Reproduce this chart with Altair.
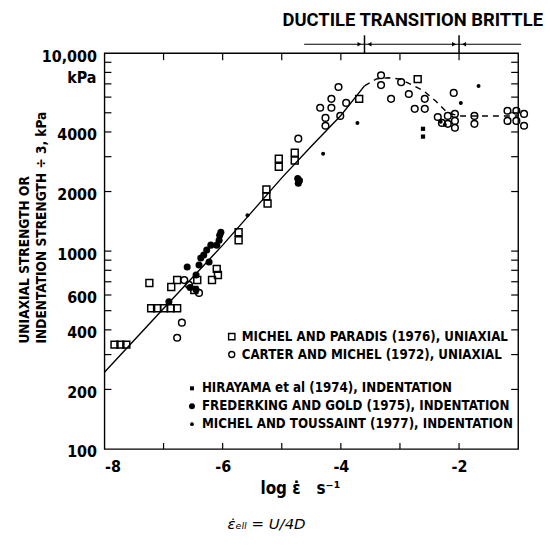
import altair as alt
import pandas as pd

# ---------------- data ----------------
# Michel and Paradis (1976), uniaxial  -> open squares
mp_x = [-7.83, -7.73, -7.63, -7.21, -7.11, -6.99, -6.88, -6.77, -7.24, -6.87, -6.77,
        -6.48, -6.43, -6.18, -6.10, -6.08, -5.73, -5.73, -5.26, -5.26, -5.24,
        -5.05, -5.05, -4.78, -4.78, -3.69, -2.70]
mp_y = [337, 337, 337, 514, 514, 514, 514, 514, 690, 659, 714,
        636, 714, 714, 813, 757, 1245, 1135, 2050, 1890, 1740,
        2930, 2670, 3140, 2870, 5880, 7400]

# Carter and Michel (1972), uniaxial -> open circles
cm_x = [-6.69, -6.77, -6.65, -6.57, -6.40, -4.72, -4.26, -4.26, -4.35, -4.16, -4.16,
        -4.04, -4.01, -3.91, -3.32, -3.32, -3.15, -2.98, -2.85, -2.75, -2.58, -2.58,
        -2.09, -2.36, -2.29, -2.19, -2.19, -2.07, -2.07, -2.07, -1.74, -1.74,
        -1.18, -1.18, -1.03, -1.03, -0.90, -0.90]
cm_y = [435, 365, 714, 675, 615, 3700, 4710, 4300, 5300, 5880, 5300,
        6750, 4820, 5610, 7740, 6900, 5880, 7140, 6220, 5235, 5880, 5235,
        6300, 4760, 4445, 4820, 4395, 4935, 4550, 4200, 4820, 4395,
        5120, 4550, 5120, 4550, 4935, 4300]

# Hirayama et al (1974), indentation -> small filled squares
hi_x = [-2.61, -2.61]
hi_y = [4150, 3790]

# Frederking and Gold (1975), indentation -> filled circles
fg_x = [-6.91, -6.60, -6.55, -6.45, -6.45, -6.40, -6.37, -6.32, -6.27, -6.23, -6.20,
        -6.10, -6.06, -6.05, -6.03, -4.72, -4.73, -4.70]
fg_y = [555, 832, 655, 637, 757, 851, 923, 956, 1012, 881, 1072,
        1072, 1135, 1203, 1245, 2200, 2330, 2275]

# Michel and Toussaint (1977), indentation -> small dots
mt_x = [-5.58, -4.30, -3.72, -1.97, -1.67, -2.31, -2.24]
mt_y = [1517, 3106, 4445, 5610, 6820, 4500, 4345]

# fitted curve
fit_solid_x = [-8.0, -7.0, -6.0, -5.0, -4.5, -4.0, -3.6]
fit_solid_y = [244, 513, 1072, 2344, 3388, 4842, 6840]
fit_dash_x = [-3.6, -3.4, -3.2, -3.0, -2.8, -2.6, -2.4, -2.2, -2.0, -1.6, -1.0]
fit_dash_y = [6840, 7410, 7520, 7400, 6920, 6460, 5750, 5010, 4820, 4820, 4820]

# axes
x_tick_values = [-7, -6, -5, -4, -3, -2]
x_tick_labels = [-8, -6, -4, -2]
y_tick_values = [200, 300, 400, 500, 600, 700, 800, 900, 1000,
                 2000, 3000, 4000, 5000, 6000, 7000, 8000, 9000]
y_tick_labels = [100, 200, 400, 600, 1000, 2000, 4000, 10000]

# regimes: ductile | transition | brittle
regime_header = "DUCTILE TRANSITION BRITTLE"
regime_bounds = [-3.6, -2.0]
regime_span = [-4.62, -0.95]

legend_labels = ["MICHEL AND PARADIS (1976), UNIAXIAL",
                 "CARTER AND MICHEL (1972), UNIAXIAL",
                 "HIRAYAMA et al (1974), INDENTATION",
                 "FREDERKING AND GOLD (1975), INDENTATION",
                 "MICHEL AND TOUSSAINT (1977), INDENTATION"]

x_title = "log ε̇\u00a0\u00a0\u00a0s⁻¹"
formula = "ε̇ₑₗₗ = U/4D"

# ---------------- layout ----------------
LEFT, TOP = 105, 52          # page position of the plot area
W, H = 416, 398
FONT = "DejaVu Sans Condensed, DejaVu Sans, sans-serif"


def px(page_x):
    return page_x - LEFT


def py(page_y):
    return page_y - TOP


xscale = alt.Scale(domain=[-8, -1], nice=False, zero=False)
yscale = alt.Scale(type="log", domain=[100, 10000], nice=False)
xaxis = alt.Axis(values=x_tick_labels, labelExpr="'' + datum.value", ticks=False,
                 domain=False, grid=False, labelFontSize=16, labelFont=FONT,
                 labelFontWeight="bold", labelPadding=10, labelColor="black", title=None)
yaxis = alt.Axis(values=y_tick_labels,
                 labelExpr="datum.value == 10000 ? '10,000' : '' + datum.value",
                 ticks=False, domain=False, grid=False, labelFontSize=16, labelFont=FONT,
                 labelFontWeight="bold", labelPadding=8, labelOffset=3,
                 labelColor="black", title=None)


def X(f="x"):
    return alt.X(f"{f}:Q", scale=xscale, axis=xaxis)


def Y(f="y"):
    return alt.Y(f"{f}:Q", scale=yscale, axis=yaxis)


layers = []

# fitted curve
layers.append(alt.Chart(pd.DataFrame({"x": fit_solid_x, "y": fit_solid_y}))
              .mark_line(color="black", strokeWidth=1.4).encode(x=X(), y=Y()))
layers.append(alt.Chart(pd.DataFrame({"x": fit_dash_x, "y": fit_dash_y}))
              .mark_line(color="black", strokeWidth=1.4, strokeDash=[6, 5]).encode(x=X(), y=Y()))

# data points
layers.append(alt.Chart(pd.DataFrame({"x": mp_x, "y": mp_y}))
              .mark_point(shape="square", filled=False, size=48, strokeWidth=1.5,
                          color="black", opacity=1).encode(x=X(), y=Y()))
layers.append(alt.Chart(pd.DataFrame({"x": cm_x, "y": cm_y}))
              .mark_point(shape="circle", filled=False, size=45, strokeWidth=1.5,
                          color="black", opacity=1).encode(x=X(), y=Y()))
layers.append(alt.Chart(pd.DataFrame({"x": hi_x, "y": hi_y}))
              .mark_square(size=18, color="black", opacity=1).encode(x=X(), y=Y()))
layers.append(alt.Chart(pd.DataFrame({"x": fg_x, "y": fg_y}))
              .mark_circle(size=50, color="black", opacity=1).encode(x=X(), y=Y()))
layers.append(alt.Chart(pd.DataFrame({"x": mt_x, "y": mt_y}))
              .mark_circle(size=16, color="black", opacity=1).encode(x=X(), y=Y()))

# inward ticks on all four sides
ytd = pd.DataFrame({"y": y_tick_values})
layers.append(alt.Chart(ytd).mark_rule(color="black", strokeWidth=1.2)
              .encode(y=Y(), x=alt.value(0), x2=alt.value(7)))
layers.append(alt.Chart(ytd).mark_rule(color="black", strokeWidth=1.2)
              .encode(y=Y(), x=alt.value(W), x2=alt.value(W - 7)))
xtd = pd.DataFrame({"x": x_tick_values})
layers.append(alt.Chart(xtd).mark_rule(color="black", strokeWidth=1.2)
              .encode(x=X(), y=alt.value(H), y2=alt.value(H - 6)))
layers.append(alt.Chart(xtd).mark_rule(color="black", strokeWidth=1.2)
              .encode(x=X(), y=alt.value(0), y2=alt.value(7)))

# "kPa" under 10,000
layers.append(alt.Chart(pd.DataFrame({"t": ["kPa"]}))
              .mark_text(text="kPa", align="right", baseline="middle", font=FONT,
                         fontSize=16, fontWeight="bold", color="black")
              .encode(x=alt.value(-8), y=alt.value(py(77))))

# y title (two rotated lines)
for txt, xp in [("UNIAXIAL STRENGTH OR", 25), ("INDENTATION STRENGTH ÷ 3, kPa", 42)]:
    layers.append(alt.Chart(pd.DataFrame({"t": [txt]}))
                  .mark_text(text=txt, angle=270, align="left", baseline="middle", font=FONT,
                             fontSize=13.7, fontWeight="bold", color="black")
                  .encode(x=alt.value(px(xp)), y=alt.value(py(344))))

# x title and formula
layers.append(alt.Chart(pd.DataFrame({"t": ["x"]}))
              .mark_text(text=x_title, align="center", baseline="middle", font=FONT,
                         fontSize=17, fontWeight="bold", color="black")
              .encode(x=alt.value(px(302)), y=alt.value(py(490))))
layers.append(alt.Chart(pd.DataFrame({"t": ["f"]}))
              .mark_text(text=formula, align="center", baseline="middle",
                         font="DejaVu Sans", fontSize=15, fontStyle="italic", color="black")
              .encode(x=alt.value(px(268)), y=alt.value(py(525))))

# regime header and arrows
layers.append(alt.Chart(pd.DataFrame({"t": [regime_header]}))
              .mark_text(text=regime_header, align="center", baseline="middle",
                         font="Roboto", fontSize=18.5, fontWeight="bold", color="black")
              .encode(x=alt.value(px(415)), y=alt.value(py(19))))
layers.append(alt.Chart(pd.DataFrame({"x": [regime_span[0]], "x2": [regime_span[1]]}))
              .mark_rule(color="black", strokeWidth=1.2)
              .encode(x=X(), x2="x2:Q", y=alt.value(py(43))))
bd = pd.DataFrame({"x": regime_bounds})
layers.append(alt.Chart(bd).mark_rule(color="black", strokeWidth=1.5)
              .encode(x=X(), y=alt.value(py(34)), y2=alt.value(0)))
layers.append(alt.Chart(bd).mark_point(shape="triangle-right", filled=True, size=22,
                                       color="black", opacity=1, xOffset=-5)
              .encode(x=X(), y=alt.value(py(43))))
layers.append(alt.Chart(bd).mark_point(shape="triangle-left", filled=True, size=22,
                                       color="black", opacity=1, xOffset=5)
              .encode(x=X(), y=alt.value(py(43))))

# legend (inside the plot, lower right)
leg_rows = [337, 355, 389, 407, 425]
leg_mark_x = [233, 233, 193, 193, 193]
leg_marks = [
    dict(mark="point", shape="square", filled=False, size=40, strokeWidth=1.4),
    dict(mark="point", shape="circle", filled=False, size=36, strokeWidth=1.4),
    dict(mark="square", size=16),
    dict(mark="circle", size=36),
    dict(mark="circle", size=14),
]
for lab, ry, mx, spec in zip(legend_labels, leg_rows, leg_mark_x, leg_marks):
    d = pd.DataFrame({"t": [lab]})
    s = dict(spec)
    m = s.pop("mark")
    base = alt.Chart(d)
    if m == "point":
        mk = base.mark_point(color="black", opacity=1, **s)
    elif m == "square":
        mk = base.mark_square(color="black", opacity=1, **s)
    else:
        mk = base.mark_circle(color="black", opacity=1, **s)
    layers.append(mk.encode(x=alt.value(px(mx)), y=alt.value(py(ry))))
    layers.append(base.mark_text(text=lab, align="left", baseline="middle", font=FONT,
                                 fontSize=13.3, fontWeight="bold", color="black")
                  .encode(x=alt.value(px(mx + 10)), y=alt.value(py(ry))))

chart = (alt.layer(*layers)
         .properties(width=W, height=H,
                     autosize=alt.AutoSizeParams(type="none"),
                     padding={"left": LEFT - 8, "top": TOP - 8, "right": 26, "bottom": 82})
         .configure_view(stroke="black", strokeWidth=1.4)
         .configure_axis(grid=False))

chart.save("out.html", embed_options={"renderer": "svg", "actions": False})
